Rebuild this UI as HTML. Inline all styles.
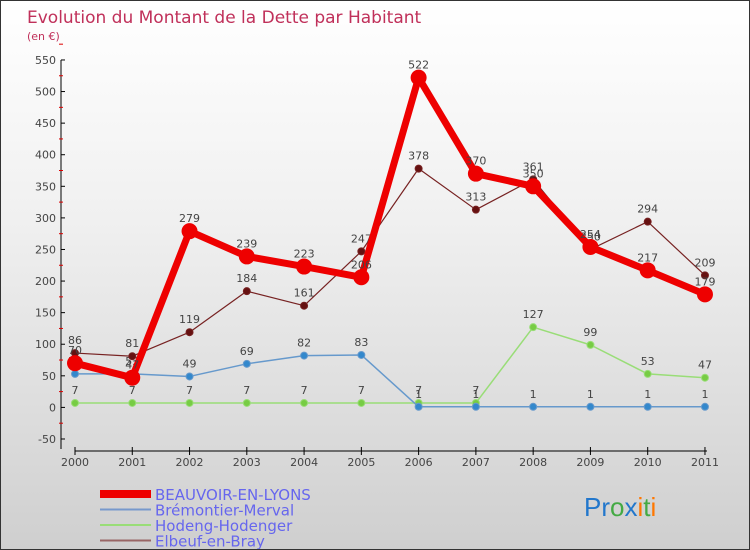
<!DOCTYPE html>
<html><head><meta charset="utf-8"><style>
body{margin:0}
#c{width:748px;height:548px;border:1px solid #333;background:linear-gradient(#ffffff,#f0f0f0 40%,#cfcfcf);position:relative;overflow:hidden;font-family:"DejaVu Sans","Liberation Sans",sans-serif}
</style></head><body>
<div id="c">
<svg id="s" width="748" height="548"></svg>
</div>
<script>
const years=[2000,2001,2002,2003,2004,2005,2006,2007,2008,2009,2010,2011];
const beauvoir=[70,47,279,239,223,206,522,370,350,254,217,179];
const bremontier=[53,53,49,69,82,83,1,1,1,1,1,1];
const hodeng=[7,7,7,7,7,7,7,7,127,99,53,47];
const elbeuf=[86,81,119,184,161,247,378,313,361,250,294,209];
const yTicks=[-50,0,50,100,150,200,250,300,350,400,450,500,550];
const NS="http://www.w3.org/2000/svg";
const s=document.getElementById('s');
function X(i){return 74+i*57.27;}
function Y(v){return 406.4-v*0.6317;}
function el(t,a,p){const e=document.createElementNS(NS,t);for(const k in a)e.setAttribute(k,a[k]);(p||s).appendChild(e);return e;}
function tx(x,y,str,a){const e=el('text',Object.assign({x:x,y:y},a));e.textContent=str;return e;}
const t1=tx(26,22,'Evolution du Montant de la Dette par Habitant',{fill:'#c0305a','font-size':'17'});


const t2=tx(26,39,'(en €)',{fill:'#c0305a','font-size':'11'});


// axes
const ya=el('line',{x1:60,y1:Y(550),x2:60,y2:Y(-50)+10,stroke:'#000','stroke-width':1});


yTicks.forEach(v=>{
 el('line',{x1:60,y1:Y(v),x2:64,y2:Y(v),stroke:'#000'});
 el('line',{x1:58,y1:Y(v+25),x2:62,y2:Y(v+25),stroke:'#d00'});
 const l=tx(55,Y(v)+4,String(v),{'text-anchor':'end','font-size':'11',fill:'#444'});
 
 
});
const xa=el('line',{x1:74,y1:450,x2:706,y2:450,stroke:'#000'});


years.forEach((y,i)=>{
 el('line',{x1:X(i),y1:446,x2:X(i),y2:454,stroke:'#000'});
 const l=tx(X(i),465,String(y),{'text-anchor':'middle','font-size':'11',fill:'#444'});
 
 
});
function series(data,color,w,r,name,dot){
 const g=el('g',{});
 
 
 el('polyline',{points:data.map((v,i)=>X(i)+','+Y(v)).join(' '),fill:'none',stroke:color,'stroke-width':w,'stroke-linejoin':'round'},g);
 data.forEach((v,i)=>{
  const c=el('circle',{cx:X(i),cy:Y(v),r:r,fill:dot,stroke:color,'stroke-width':1},g);
  
  
  const l=tx(X(i),Y(v)-9,String(v),{'text-anchor':'middle','font-size':'11',fill:'#444'},g);
  
  
 });
}
series(hodeng,'#99dd77',1.5,3.5,'hodeng-series','#77cc44');
series(bremontier,'#6699cc',1.5,3.5,'bremontier-series','#3388cc');
series(elbeuf,'#772222',1.2,3.5,'elbeuf-series','#661111');
series(beauvoir,'#ee0000',7,7.5,'beauvoir-series','#ee0000');
// legend
const leg=[['BEAUVOIR-EN-LYONS','#ee0000',8],['Brémontier-Merval','#7799cc',2],['Hodeng-Hodenger','#99dd77',2],['Elbeuf-en-Bray','#996666',2]];
leg.forEach((d,i)=>{
 const y=493+i*15.5;
 const g=el('g',{});
 
 
 el('line',{x1:99,y1:y,x2:150,y2:y,stroke:d[1],'stroke-width':d[2]},g);
 tx(154,y+6,d[0],{'font-size':'15',fill:'#6666ee'},g);
});
const lg=el('text',{x:583,y:515,'font-size':'26','font-family':'Liberation Sans, sans-serif'});


[['Pr','#2277cc'],['o','#44aa44'],['x','#2277cc'],['i','#ff7700'],['t','#44aa44'],['i','#ff7700']].forEach(p=>{const t=el('tspan',{fill:p[1]},lg);t.textContent=p[0];});
</script>
</body></html>
